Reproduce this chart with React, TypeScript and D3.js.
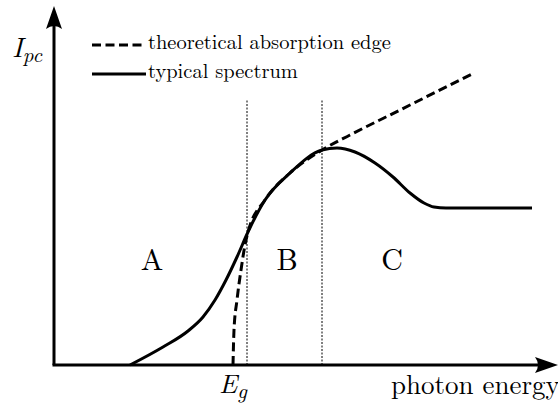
import React from "react";
import * as d3 from "d3";

// Schematic photocurrent spectrum (arbitrary units)
const typicalX = [76, 109, 134, 149, 161, 172, 183, 194, 211, 236, 268, 283, 301, 321, 339, 356, 370, 380, 392, 478];
const typicalY = [0, 18, 34, 48, 65, 85, 108, 133, 165, 192, 215, 217, 213, 202, 188, 172, 162, 158, 157, 157];

const edgeX = [179, 180, 183, 187, 191, 194, 211, 236, 268, 296, 346, 418];
const edgeY = [0, 35, 65, 95, 120, 133, 165, 192, 215, 230, 255, 291];

// Region boundaries (photon energy)
const boundaries = [193, 268];
const regionLabels = ["A", "B", "C"];
const regionLabelX = [98, 233, 338];

const legendLabels = ["theoretical absorption edge", "typical spectrum"];

const W = 558;
const H = 407;
const x0 = 54;
const y0 = 365;

export default function App() {
  const x = d3.scaleLinear().domain([0, 500]).range([x0, x0 + 500]);
  const y = d3.scaleLinear().domain([0, 360]).range([y0, y0 - 360]);

  const line = d3
    .line<[number, number]>()
    .x((d) => x(d[0]))
    .y((d) => y(d[1]))
    .curve(d3.curveMonotoneX);

  const typical = typicalX.map((v, i) => [v, typicalY[i]] as [number, number]);
  const edge = edgeX.map((v, i) => [v, edgeY[i]] as [number, number]);

  const font = { fontFamily: '"Latin Modern Roman", "DejaVu Serif", serif' };

  return (
    <svg
      width={W}
      height={H}
      style={{ position: "absolute", left: 0, top: 0, background: "#fff" }}
    >
      {/* region boundaries */}
      {boundaries.map((b) => (
        <line
          key={b}
          x1={x(b)}
          x2={x(b)}
          y1={y(0)}
          y2={y(266)}
          stroke="#000"
          strokeWidth={1}
          strokeDasharray="2,1.5"
        />
      ))}

      {/* axes */}
      <line x1={x0} y1={y0} x2={x0} y2={20} stroke="#000" strokeWidth={3} />
      <line x1={x0 - 1.5} y1={y0} x2={545} y2={y0} stroke="#000" strokeWidth={3} />
      <path d={`M ${x0} 6 L ${x0 + 8} 29 Q ${x0} 23 ${x0 - 8} 29 Z`} fill="#000" />
      <path d={`M 558 ${y0} L 535 ${y0 - 8} Q 541 ${y0} 535 ${y0 + 8} Z`} fill="#000" />

      {/* curves */}
      <path d={line(typical) ?? ""} fill="none" stroke="#000" strokeWidth={3} />
      <path
        d={line(edge) ?? ""}
        fill="none"
        stroke="#000"
        strokeWidth={3}
        strokeDasharray="9,4.5"
      />

      {/* legend */}
      <line x1={92} x2={146} y1={45} y2={45} stroke="#000" strokeWidth={3} strokeDasharray="9,4.5" />
      <line x1={92} x2={146} y1={74} y2={74} stroke="#000" strokeWidth={3} />
      <text x={148} y={49} fontSize={20.5} style={font}>{legendLabels[0]}</text>
      <text x={148} y={78} fontSize={20.5} style={font}>{legendLabels[1]}</text>

      {/* region labels */}
      {regionLabels.map((l, i) => (
        <text key={l} x={x(regionLabelX[i])} y={270} fontSize={30} textAnchor="middle" style={font}>
          {l}
        </text>
      ))}

      {/* axis labels */}
      <text x={12} y={57} fontSize={28} fontStyle="italic" style={font}>
        I<tspan fontSize={21} dy={5}>pc</tspan>
      </text>
      <text x={219} y={393} fontSize={27} fontStyle="italic" style={font}>
        E<tspan fontSize={21} dy={5}>g</tspan>
      </text>
      <text x={391} y={394} fontSize={27} style={font}>photon energy</text>
    </svg>
  );
}
